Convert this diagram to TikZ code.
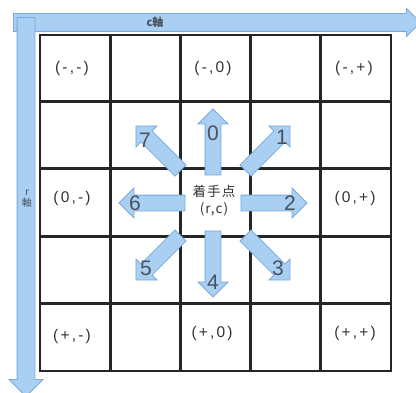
\documentclass[tikz,border=0pt]{standalone}
\usepackage{fontspec}
\setmainfont{Liberation Sans}
\newfontfamily\cellfont[LetterSpace=14]{Liberation Sans}
\newfontfamily\jpfont{Noto Sans CJK JP}
\newfontfamily\jpwide[LetterSpace=8]{Noto Sans CJK JP}
\usetikzlibrary{shapes.arrows,calc}

\definecolor{bandfill}{HTML}{A9CFF2}
\definecolor{banddraw}{HTML}{7AAADB}
\definecolor{digitgray}{HTML}{4A5260}

\tikzset{
  gridline/.style={line width=2.8pt, black!85},
  blockarrow/.style={single arrow, fill=bandfill, draw=banddraw, line width=0.8pt,
    inner sep=7.5pt, single arrow head extend=7pt, single arrow head indent=0pt,
    minimum height=66pt},
  diagarrow/.style={blockarrow, minimum height=63pt},
  axisband/.style={single arrow, fill=bandfill, draw=banddraw, line width=0.8pt,
    inner sep=8.5pt, single arrow head indent=0pt},
  cell/.style={font=\cellfont\fontsize{15.5}{16}\selectfont, text=black!80},
  digit/.style={font=\fontsize{21}{21}\selectfont, text=digitgray, inner sep=0pt},
}

\begin{document}
\begin{tikzpicture}[x=1pt, y=1pt]
  \useasboundingbox (0,0) rectangle (416,392);

  % Axes
  \node[axisband, single arrow head extend=5pt, minimum height=407pt] (caxis) at (212.5,369.5) {};
  \node[axisband, single arrow head extend=8pt, minimum height=379pt, rotate=-90] (raxis) at (26,189.5) {};
  \node[font=\jpfont\bfseries\fontsize{11}{11}\selectfont, text=digitgray, inner sep=0pt] (clabel) at (155,370) {c軸};
  \node[font=\jpfont\fontsize{10}{11}\selectfont, text=digitgray, align=center, inner sep=0pt] (rlabel) at (27,193) {r\\軸};

  % Board
  \draw[gridline] (40,21) rectangle (391,357);
  \draw[gridline] (110.2,21) -- (110.2,357) (180.4,21) -- (180.4,357)
                  (250.6,21) -- (250.6,357) (320.8,21) -- (320.8,357);
  \draw[gridline] (40,290.2) -- (391,290.2) (40,223.4) -- (391,223.4)
                  (40,155.6) -- (391,155.6) (40,88.8) -- (391,88.8);

  % Corner and edge cells
  \node[cell] (mm) at (72,324) {(-,-)};
  \node[cell] (m0) at (213,324) {(-,0)};
  \node[cell] (mp) at (354,324) {(-,+)};
  \node[cell] (0m) at (72,194) {(0,-)};
  \node[cell] (0p) at (355,194) {(0,+)};
  \node[cell] (pm) at (72,56) {(+,-)};
  \node[cell] (p0) at (212,59) {(+,0)};
  \node[cell] (pp) at (355,59) {(+,+)};

  % Move point
  \node[font=\jpwide\fontsize{13.5}{17}\selectfont, text=black!80, align=center, inner sep=0pt] (cen) at (214,191) {着手点\\(r,c)};

  % Eight directions
  \node[blockarrow, rotate=90] (a0) at ($(213,189)+(90:57)$) {};
  \node[diagarrow, rotate=45] (a1) at ($(213,189)+(45:73.5)$) {};
  \node[blockarrow] (a2) at ($(213,189)+(0:57)$) {};
  \node[diagarrow, rotate=-45] (a3) at ($(213,189)+(-45:73.5)$) {};
  \node[blockarrow, rotate=-90] (a4) at ($(213,189)+(-90:57)$) {};
  \node[diagarrow, rotate=-135] (a5) at ($(213,189)+(-135:73.5)$) {};
  \node[blockarrow, rotate=180] (a6) at ($(213,189)+(180:57)$) {};
  \node[diagarrow, rotate=135] (a7) at ($(213,189)+(135:73.5)$) {};

  \node[digit] (d0) at (213,259) {0};
  \node[digit] (d1) at (282,255) {1};
  \node[digit] (d2) at (290,189) {2};
  \node[digit] (d3) at (278,124) {3};
  \node[digit] (d4) at (213,110) {4};
  \node[digit] (d5) at (146,124) {5};
  \node[digit] (d6) at (135,189) {6};
  \node[digit] (d7) at (145,252) {7};
\end{tikzpicture}
\end{document}
